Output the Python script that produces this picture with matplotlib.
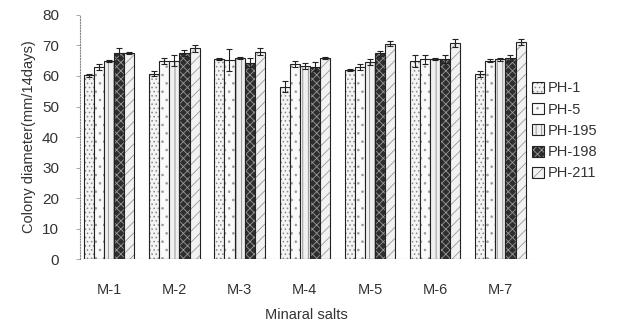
import matplotlib
matplotlib.use("Agg")
import matplotlib.pyplot as plt
import numpy as np

plt.rcParams['font.family'] = ['Liberation Sans', 'DejaVu Sans']
plt.rcParams['hatch.linewidth'] = 0.6

categories = ["M-1", "M-2", "M-3", "M-4", "M-5", "M-6", "M-7"]
series = ["PH-1", "PH-5", "PH-195", "PH-198", "PH-211"]
ph1 = [60.3, 60.7, 65.6, 56.4, 62.0, 65.0, 60.6]
ph5 = [63.0, 65.0, 65.2, 64.0, 63.0, 65.5, 65.0]
ph195 = [65.0, 65.0, 66.0, 63.3, 64.5, 65.6, 65.5]
ph198 = [67.5, 67.5, 64.3, 63.0, 67.5, 65.6, 66.0]
ph211 = [67.5, 69.0, 68.0, 66.0, 70.5, 70.8, 71.0]
err1 = [0.5, 0.8, 0.3, 1.8, 0.3, 2.0, 1.0]
err5 = [1.0, 1.0, 3.5, 1.0, 1.0, 1.5, 0.5]
err195 = [0.3, 1.8, 0.3, 1.0, 1.0, 0.3, 0.5]
err198 = [1.5, 1.0, 1.5, 1.5, 0.8, 1.2, 1.0]
err211 = [0.3, 1.0, 1.2, 0.3, 0.8, 1.3, 1.0]

values = [ph1, ph5, ph195, ph198, ph211]
errors = [err1, err5, err195, err198, err211]
faces = ["#f4f4f4", "#fafafa", "#f0f0f0", "#2e2e2e", "#f2f2f2"]
hatches = ["....", "..", "|||", "xxxx", "///"]
hatch_colors = ["#888888", "#999999", "#888888", "#999999", "#999999"]

fig = plt.figure(figsize=(6.19, 3.24), dpi=100)
ax = fig.add_axes([0.129, 0.2, 0.732, 0.754])

x = np.arange(len(categories))
w = 0.155
for i, (vals, errs) in enumerate(zip(values, errors)):
    pos = x + (i - 2) * w
    bars = ax.bar(pos, vals, width=w, color=faces[i], edgecolor="#222222",
                  linewidth=0.8, hatch=hatches[i], label=series[i],
                  yerr=errs, capsize=2,
                  error_kw=dict(elinewidth=0.8, ecolor="#222222", capthick=0.8))
    for b in bars:
        b._hatch_color = matplotlib.colors.to_rgba(hatch_colors[i])

ax.set_xlim(-0.45, 6.5)
ax.set_ylim(0, 80)
ax.set_yticks(range(0, 81, 10))
ax.set_xticks(x)
ax.set_xticklabels(categories)
for s in ["top", "right", "bottom"]:
    ax.spines[s].set_visible(False)
ax.spines["left"].set_linestyle((0, (1, 1.5)))
ax.spines["left"].set_color("#888888")
ax.axhline(0, color="#555555", lw=0.8, ls=(0, (1, 1)))
ax.tick_params(axis="x", length=0, pad=17, labelsize=10.5, colors="#333333")
ax.tick_params(axis="y", length=3, width=0.6, color="#999999", labelsize=11,
               colors="#333333", pad=12)
ax.set_ylabel("Colony diameter(mm/14days)", fontsize=10.5, color="#333333")
ax.set_xlabel("Minaral salts", fontsize=10.5, color="#333333", labelpad=8)

leg = ax.legend(loc="upper left", bbox_to_anchor=(0.975, 0.77), frameon=False,
                fontsize=10.5, handlelength=0.8, handleheight=0.8,
                handletextpad=0.3, labelspacing=0.5, borderpad=0.2)
for t in leg.get_texts():
    t.set_color("#333333")

fig.savefig("out.png", dpi=100)
